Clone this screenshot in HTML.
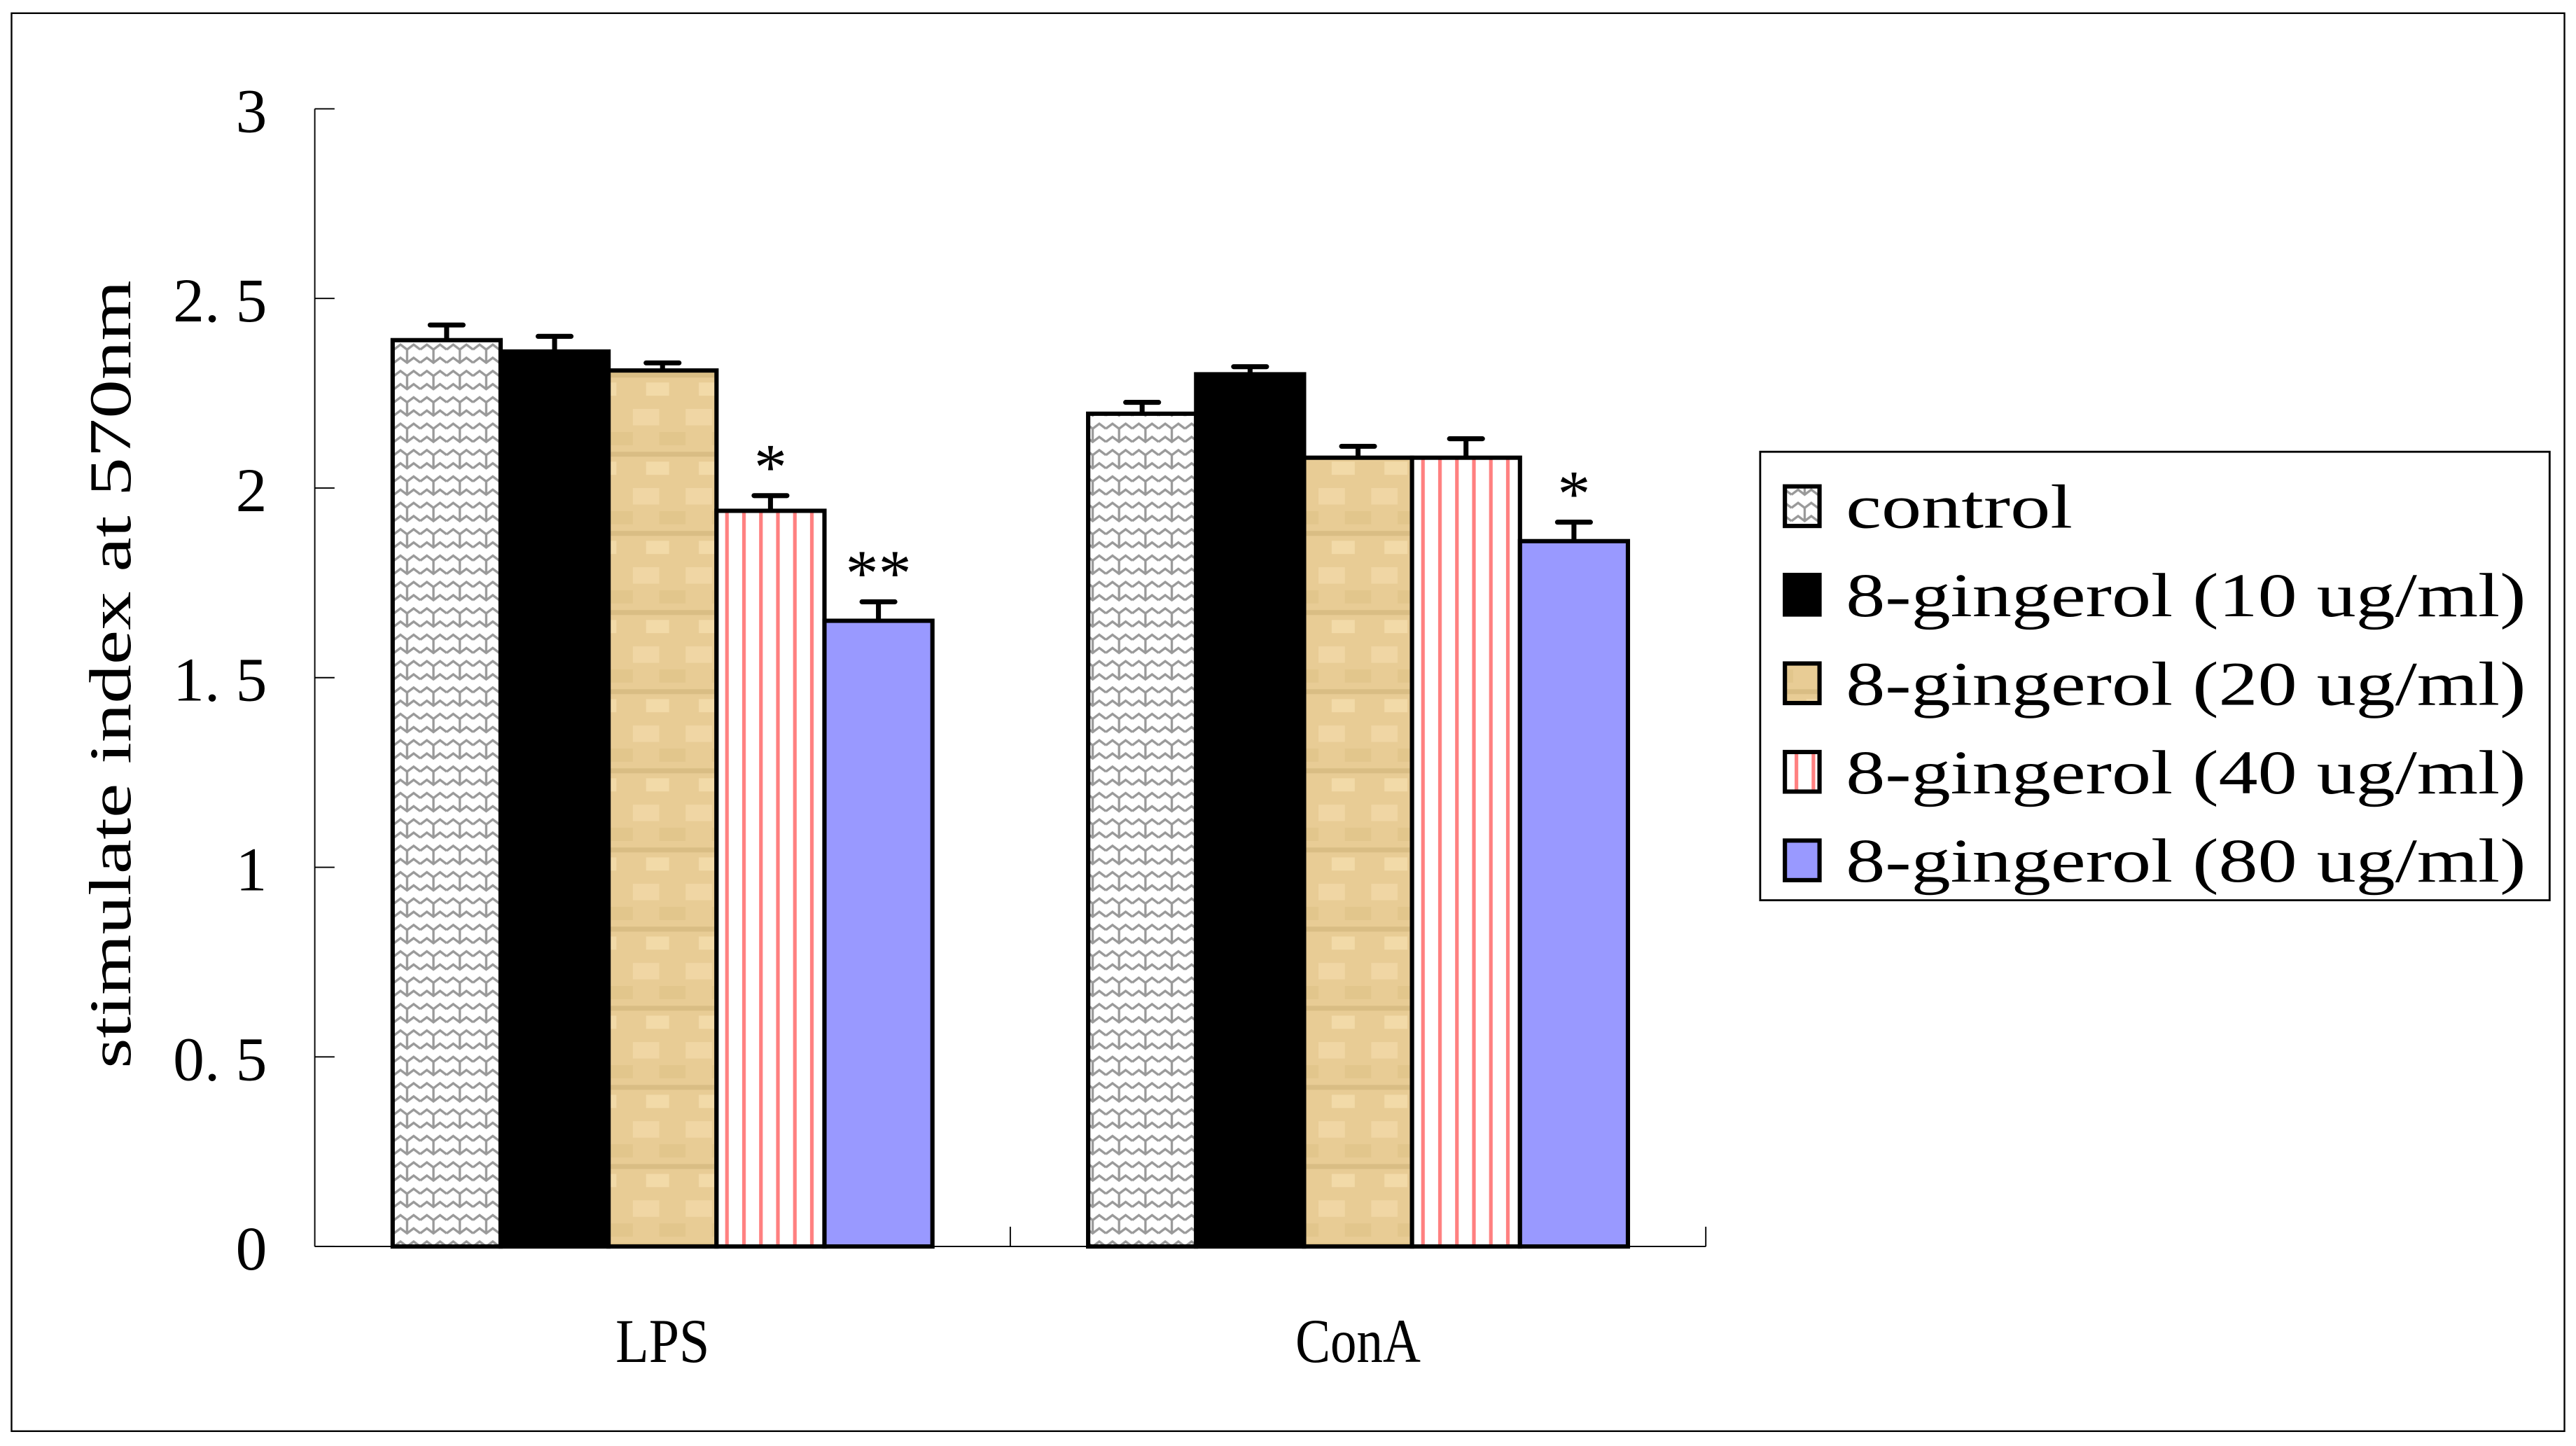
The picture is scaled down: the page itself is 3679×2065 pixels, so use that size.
<!DOCTYPE html>
<html><head><meta charset="utf-8"><style>
html,body{margin:0;padding:0;background:#fff;}
svg{display:block;}
text{font-family:"Liberation Serif","Noto Serif CJK SC",serif;fill:#000;}
</style></head><body>
<svg id="chart" width="3679" height="2065" viewBox="0 0 1563 877" preserveAspectRatio="none" xmlns="http://www.w3.org/2000/svg">
<defs>
<pattern id="p0" patternUnits="userSpaceOnUse" width="16" height="16" x="239" y="0">
<rect width="16" height="16" fill="#fff"/>
<path d="M0 4 L4 1 L8 4 L8 12 M8 4 L12 1 L16 4 M0 12 L4 9 L8 12 L12 9 L16 12" stroke="#999" stroke-width="1.4" fill="none"/>
</pattern>
<pattern id="p2" patternUnits="userSpaceOnUse" width="32" height="48">
<rect width="32" height="48" fill="#E8CC95"/>
<rect x="0" y="8" width="16" height="10" fill="#F0D6A4"/>
<rect x="16" y="22" width="16" height="8" fill="#E2C68C"/>
<rect x="0" y="34" width="32" height="3" fill="#D9BD84"/>
<rect x="8" y="40" width="14" height="8" fill="#F2DAA8"/>
</pattern>
<pattern id="p3" patternUnits="userSpaceOnUse" width="10.3" height="10" x="436">
<rect width="10.3" height="10" fill="#fff"/>
<rect x="4" width="2.2" height="10" fill="#FF8080"/>
</pattern>
</defs>
<rect x="7" y="8" width="1549" height="860" fill="#fff" stroke="#000" stroke-width="1"/>
<g id="axes"></g>
<g id="bars"></g>
<text transform="translate(79,409) rotate(-90)" text-anchor="middle" font-size="36" textLength="478" lengthAdjust="spacingAndGlyphs">stimulate index at 570nm</text>
<g>
<rect x="1068" y="274" width="479" height="272" fill="#fff" stroke="#000" stroke-width="1.2"/>
<g id="legend-items"></g>
</g>
</svg>
<script>
const categories = ["LPS", "ConA"];
const seriesNames = ["control", "8-gingerol (10 ug/ml)", "8-gingerol (20 ug/ml)", "8-gingerol (40 ug/ml)", "8-gingerol (80 ug/ml)"];
const valuesLPS = [2.39, 2.36, 2.31, 1.94, 1.65];
const valuesConA = [2.196, 2.30, 2.08, 2.08, 1.86];
const errLPS = [0.04, 0.04, 0.02, 0.04, 0.05];
const errConA = [0.03, 0.02, 0.03, 0.05, 0.05];
const sigLPS = ["", "", "", "*", "**"];
const sigConA = ["", "", "", "", "*"];
const yTicks = [0, 0.5, 1, 1.5, 2, 2.5, 3];
const yTickLabels = ["0", "0. 5", "1", "1. 5", "2", "2. 5", "3"];

const fills = ["url(#p0)", "#000", "url(#p2)", "url(#p3)", "#9999FF"];
const NS = "http://www.w3.org/2000/svg";
const x0 = 191, x1 = 1035, yBase = 756, yTop = 66, yMax = 3;
const y = v => yBase - (v / yMax) * (yBase - yTop);
const catW = (x1 - x0) / categories.length;
const barW = 65.5;
const catCenter = i => x0 + catW * (i + 0.5);
const barX = (c, s) => catCenter(c) - barW * seriesNames.length / 2 + s * barW;

function mk(tag, attrs, parent) {
  const e = document.createElementNS(NS, tag);
  for (const k in attrs) e.setAttribute(k, attrs[k]);
  parent.appendChild(e);
  return e;
}
const axes = document.getElementById("axes");
const yAxis = mk("line", {x1: x0, y1: yTop, x2: x0, y2: yBase, stroke: "#000", "stroke-width": 0.8}, axes);


const xAxis = mk("line", {x1: x0, y1: yBase, x2: x1, y2: yBase, stroke: "#000", "stroke-width": 0.8}, axes);


yTicks.forEach((t, i) => {
  const tk = mk("line", {x1: x0, y1: y(t), x2: x0 + 12, y2: y(t), stroke: "#000", "stroke-width": 0.8}, axes);
  
  
  const lb = mk("text", {x: 162, y: y(t) + 14, "text-anchor": "end", "font-size": 38}, axes);
  lb.textContent = yTickLabels[i];
  
  
});
for (let c = 1; c <= categories.length; c++) {
  const tk = mk("line", {x1: x0 + catW * c, y1: yBase, x2: x0 + catW * c, y2: yBase - 12, stroke: "#000", "stroke-width": 0.8}, axes);
  
  
}
categories.forEach((cat, c) => {
  const lb = mk("text", {x: catCenter(c), y: 826, "text-anchor": "middle", "font-size": 38, textLength: cat.length * 19, lengthAdjust: "spacingAndGlyphs"}, axes);
  lb.textContent = cat;
  
  
});

const bars = document.getElementById("bars");
const vals = [valuesLPS, valuesConA], errs = [errLPS, errConA], sigs = [sigLPS, sigConA];
categories.forEach((cat, c) => {
  seriesNames.forEach((s, i) => {
    const v = vals[c][i], e = errs[c][i];
    const bx = barX(c, i), cx = bx + barW / 2;
    const eb = mk("path", {d: `M${cx} ${y(v)} V${y(v + e)} M${cx - 10} ${y(v + e)} H${cx + 10}`, stroke: "#000", "stroke-width": 3, "stroke-linecap": "round", fill: "none"}, bars);
    
    
    const r = mk("rect", {x: bx, y: y(v), width: barW, height: yBase - y(v), fill: fills[i], stroke: "#000", "stroke-width": 2.6}, bars);
    
    
    if (sigs[c][i]) {
      const t = mk("text", {x: cx, y: y(v + e) - 4, "text-anchor": "middle", "font-size": 40}, bars);
      t.textContent = sigs[c][i];
      
      
    }
  });
});

const lg = document.getElementById("legend-items");
seriesNames.forEach((s, i) => {
  const yy = 307 + i * 53.7;
  const sw = mk("rect", {x: 1083, y: yy - 12, width: 21, height: 24, fill: fills[i], stroke: "#000", "stroke-width": 2.6}, lg);
  
  
  const t = mk("text", {x: 1120, y: yy + 13, "font-size": 38, textLength: s.length * 19.65, lengthAdjust: "spacingAndGlyphs"}, lg);
  t.textContent = s;
  
  
});
</script>
</body></html>
